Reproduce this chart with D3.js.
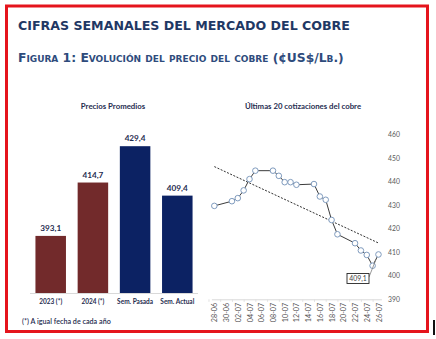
<!DOCTYPE html>
<html>
<head>
<meta charset="utf-8">
<script src="https://cdn.jsdelivr.net/npm/d3@7"></script>
<style>
  body { margin: 0; background: #fff; }
  svg { display: block; }
</style>
</head>
<body>
<svg id="chart" width="436" height="339"></svg>
<script>
// Precios promedios (barras)
var barCats = ['2023 (*)', '2024 (*)', 'Sem. Pasada', 'Sem. Actual'];
var barVals = [393.1, 414.7, 429.4, 409.4];

// Ultimas cotizaciones (linea)
var quoteDates = ['28-06', '01-07', '02-07', '03-07', '04-07', '05-07', '08-07', '09-07', '10-07', '11-07',
  '12-07', '15-07', '16-07', '17-07', '18-07', '19-07', '22-07', '23-07', '24-07', '25-07', '26-07'];
var quoteVals = [429.8, 431.8, 433.1, 436.4, 441.2, 444.8, 444.8, 442.6, 439.9, 439.9,
  438.8, 439.1, 433.8, 432.4, 423.8, 417.7, 413.9, 410.8, 408.9, 404.3, 409.1];

// Tick labels
var xTickLabels = ['28-06', '30-06', '02-07', '04-07', '06-07', '08-07', '10-07', '12-07',
  '14-07', '16-07', '18-07', '20-07', '22-07', '24-07', '26-07'];
var yTicks = [390, 400, 410, 420, 430, 440, 450, 460];

var svg = d3.select('#chart');
var navy = '#1f2d50';
var fmt = function(v) { return d3.format('.1f')(v).replace('.', ','); };

// Titles
svg.append('text')
  .attr('x', 18).attr('y', 30)
  .style('font-family', 'DejaVu Sans').style('font-weight', 'bold')
  .style('font-size', '12.6px').style('fill', '#1f3864')
  .text('CIFRAS SEMANALES DEL MERCADO DEL COBRE');

svg.append('text')
  .attr('x', 18).attr('y', 61.5)
  .style('font-family', 'DejaVu Sans').style('font-weight', 'bold')
  .style('font-size', '12.3px').style('fill', '#2e4b7c')
  .style('font-variant', 'small-caps')
  .text('Figura 1: Evolución del precio del cobre (¢US$/Lb.)');

// ---- Bar chart ----
var xb = d3.scaleBand().domain(barCats).range([29.6, 198.4]).paddingInner(0.277).paddingOuter(0.1385);
var yb = d3.scaleLinear().domain([370, 440]).range([293, 120]);

svg.append('text')
  .attr('x', 113).attr('y', 109).attr('text-anchor', 'middle')
  .style('font-family', 'Lato').style('font-weight', 'bold')
  .style('font-size', '7.8px').style('fill', navy)
  .text('Precios Promedios');

svg.append('line')
  .attr('x1', 30).attr('x2', 198).attr('y1', 293.5).attr('y2', 293.5)
  .style('stroke', '#d9d9d9').style('stroke-width', 1);

svg.selectAll('rect.bar').data(barVals).enter()
  .append('rect').attr('class', 'bar')
  .attr('x', function(d, i) { return xb(barCats[i]); })
  .attr('width', xb.bandwidth())
  .attr('y', function(d) { return yb(d); })
  .attr('height', function(d) { return yb(370) - yb(d); })
  .style('fill', function(d, i) { return i < 2 ? '#722a2b' : '#0c2263'; });

svg.selectAll('text.bval').data(barVals).enter()
  .append('text').attr('class', 'bval')
  .attr('x', function(d, i) { return xb(barCats[i]) + xb.bandwidth() / 2; })
  .attr('y', function(d) { return yb(d) - 5; })
  .attr('text-anchor', 'middle')
  .style('font-family', 'Lato').style('font-weight', 'bold')
  .style('font-size', '8.2px').style('fill', navy)
  .text(fmt);

svg.selectAll('text.bcat').data(barCats).enter()
  .append('text').attr('class', 'bcat')
  .attr('x', function(d) { return xb(d) + xb.bandwidth() / 2; })
  .attr('y', 303.5)
  .attr('text-anchor', 'middle')
  .style('font-family', 'Lato').style('font-weight', 'bold')
  .style('font-size', '6.5px').style('fill', navy)
  .text(function(d) { return d; });

svg.append('text')
  .attr('x', 22).attr('y', 324)
  .style('font-family', 'Lato').style('font-weight', '600')
  .style('font-size', '7.2px').style('fill', navy)
  .text('(*) A igual fecha de cada año');

// ---- Line chart ----
var parse = function(s) { return d3.utcParse('%d-%m-%Y')(s + '-2024'); };
var dates = quoteDates.map(parse);
var t0 = d3.utcHour.offset(dates[0], -12);
var t1 = d3.utcHour.offset(dates[dates.length - 1], 12);
var xl = d3.scaleUtc().domain([t0, t1]).range([211.4, 381.4]);
var yl = d3.scaleLinear().domain([390, 460]).range([299.3, 135]);

svg.append('text')
  .attr('x', 303).attr('y', 109).attr('text-anchor', 'middle')
  .style('font-family', 'Lato').style('font-weight', 'bold')
  .style('font-size', '7.8px').style('fill', navy)
  .text('Últimas 20 cotizaciones del cobre');

// y axis labels (right side)
svg.selectAll('text.ytick').data(yTicks).enter()
  .append('text').attr('class', 'ytick')
  .attr('x', 388).attr('y', function(d) { return yl(d) + 2.4; })
  .style('font-family', 'Lato').style('font-size', '6.8px').style('fill', '#595959')
  .text(function(d) { return d; });

// x axis
var xAxis = d3.axisBottom(xl)
  .tickValues(xTickLabels.map(parse))
  .tickSize(0)
  .tickFormat(d3.utcFormat('%d-%m'));
var gx = svg.append('g').attr('transform', 'translate(0,' + yl(390) + ')').call(xAxis);
gx.select('.domain').style('stroke', '#d9d9d9');
gx.selectAll('text')
  .attr('transform', 'rotate(-90)')
  .attr('x', -3.5).attr('y', 0).attr('dy', '0.35em')
  .attr('text-anchor', 'end')
  .style('font-family', 'Lato').style('font-size', '7.2px').style('fill', '#595959');
gx.selectAll('.tick').append('line')
  .attr('x1', -5.86).attr('x2', -5.86).attr('y1', 0).attr('y2', 2.5)
  .style('stroke', '#e0e0e0');

// trend line (least squares on days)
var days = dates.map(function(d) { return (d - dates[0]) / 864e5; });
var mx = d3.mean(days), my = d3.mean(quoteVals);
var sxy = d3.sum(days, function(d, i) { return (d - mx) * (quoteVals[i] - my); });
var sxx = d3.sum(days, function(d) { return (d - mx) * (d - mx); });
var slope = sxy / sxx, icpt = my - slope * mx;
svg.append('line')
  .attr('x1', xl(dates[0])).attr('y1', yl(icpt))
  .attr('x2', xl(dates[dates.length - 1])).attr('y2', yl(icpt + slope * days[days.length - 1]))
  .style('stroke', '#1a1a1a').style('stroke-width', 0.9).style('stroke-dasharray', '2,1.5');

var line = d3.line()
  .x(function(d, i) { return xl(dates[i]); })
  .y(function(d) { return yl(d); });
svg.append('path').datum(quoteVals)
  .attr('d', line)
  .style('fill', 'none').style('stroke', '#3b3b3b').style('stroke-width', 1);

svg.selectAll('circle.pt').data(quoteVals).enter()
  .append('circle').attr('class', 'pt')
  .attr('cx', function(d, i) { return xl(dates[i]); })
  .attr('cy', function(d) { return yl(d); })
  .attr('r', 2.8)
  .style('fill', '#fff').style('stroke', '#7f9bbe').style('stroke-width', 1);

// label of last value
var last = quoteVals[quoteVals.length - 1];
var lx = xl(dates[dates.length - 1]), ly = yl(last);
svg.append('line')
  .attr('x1', 369).attr('y1', 277).attr('x2', lx - 2.5).attr('y2', ly + 5)
  .style('stroke', '#7f7f7f').style('stroke-width', 0.8);
svg.append('rect')
  .attr('x', 347).attr('y', 273.5).attr('width', 22).attr('height', 10)
  .style('fill', '#fff').style('stroke', '#262626').style('stroke-width', 0.9);
svg.append('text')
  .attr('x', 358).attr('y', 281).attr('text-anchor', 'middle')
  .style('font-family', 'Lato').style('font-size', '6.8px').style('fill', '#404040')
  .text(fmt(last));

// frame
svg.append('rect')
  .attr('x', 6.5).attr('y', 6).attr('width', 421).attr('height', 325.5)
  .style('fill', 'none').style('stroke', '#e5141c').style('stroke-width', 3);
svg.append('rect')
  .attr('x', 433).attr('y', 320).attr('width', 2).attr('height', 15)
  .style('fill', '#111');
</script>
</body>
</html>
